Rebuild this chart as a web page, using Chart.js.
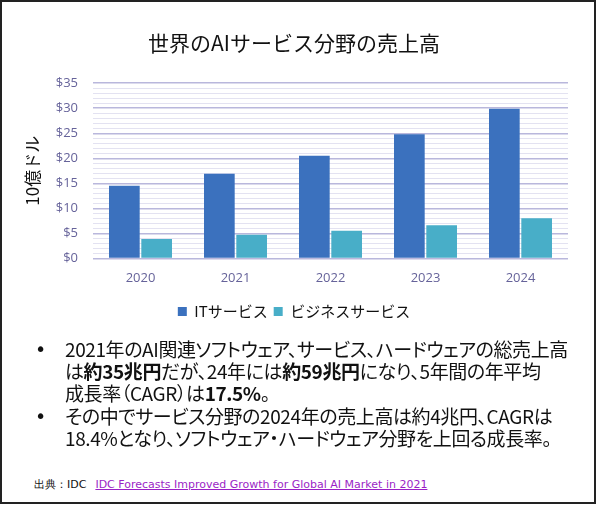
<!DOCTYPE html>
<html lang="ja">
<head>
<meta charset="utf-8">
<script src="https://cdn.jsdelivr.net/npm/chart.js@4.4.1/dist/chart.umd.min.js"></script>
<style>
  html, body { margin: 0; padding: 0; background: #fff; }
  body { width: 600px; height: 506px; position: relative; overflow: hidden;
         font-family: "Noto Sans CJK JP", "Noto Sans", sans-serif; }
  #wrap { position: absolute; left: 0; top: 0; width: 600px; height: 337px; }
  #frame { position: absolute; left: 0; top: 0; width: 592px; height: 500px;
           border: 2px solid #222; pointer-events: none; }
  .notes { position: absolute; left: 0; top: 338px; width: 600px;
           font-size: 19px; line-height: 22px; color: #111; letter-spacing: -0.4px;
           font-feature-settings: "palt"; white-space: nowrap; }
  .item { position: relative; padding-left: 65px; margin-bottom: 1px; }
  .item::before { content: "•"; position: absolute; left: 35px; top: 0; font-family: "DejaVu Sans"; }
  .notes b { font-weight: bold; }
  .src { position: absolute; left: 34px; top: 477px; font-family: "DejaVu Sans", sans-serif;
         font-size: 11px; color: #111; white-space: nowrap; }
  .src a { color: #9b1fc6; text-decoration: underline; margin-left: 9px; }
</style>
</head>
<body>
<div id="wrap"><canvas id="myChart"></canvas></div>

<div class="notes">
  <div class="item">2021年のAI関連ソフトウェア、サービス、ハードウェアの総売上高<br>は<b>約35兆円</b>だが、24年には<b>約59兆円</b>になり、5年間の年平均<br>成長率（CAGR）は<b>17.5%</b>。</div>
  <div class="item">その中でサービス分野の2024年の売上高は約4兆円、CAGRは<br>18.4%となり、ソフトウェア・ハードウェア分野を上回る成長率。</div>
</div>
<div class="src">出典：IDC<a>IDC Forecasts Improved Growth for Global AI Market in 2021</a></div>
<div id="frame"></div>

<script>
// years on the x axis
const years = ['2020', '2021', '2022', '2023', '2024'];
// sales, billions of dollars
const itServices = [14.5, 16.9, 20.5, 24.8, 29.9];
const businessServices = [3.9, 4.7, 5.5, 6.6, 8.0];
const seriesNames = ['ITサービス', 'ビジネスサービス'];

const tickColor = '#66639a';

var ctx = document.getElementById('myChart').getContext('2d');

new Chart(ctx, {
  type: 'bar',
  data: {
    labels: years,
    datasets: [{
      label: seriesNames[0],
      data: itServices,
      backgroundColor: '#3b71be',
      categoryPercentage: 0.68,
      barPercentage: 0.95
    }, {
      label: seriesNames[1],
      data: businessServices,
      backgroundColor: '#48aec8',
      categoryPercentage: 0.68,
      barPercentage: 0.95
    }]
  },
  options: {
    responsive: true,
    maintainAspectRatio: false,
    animation: false,
    layout: { padding: { left: 20, right: 32, top: 0, bottom: 8 } },
    plugins: {
      title: {
        display: true,
        text: '世界のAIサービス分野の売上高',
        color: '#111',
        font: { family: 'Noto Sans CJK JP', size: 21, weight: 'normal' },
        padding: { top: 30, bottom: 28 }
      },
      legend: {
        position: 'bottom',
        labels: {
          color: '#111',
          boxWidth: 9,
          boxHeight: 9,
          padding: 6,
          font: { family: 'Noto Sans CJK JP', size: 15 }
        }
      },
      tooltip: { enabled: false }
    },
    scales: {
      x: {
        grid: { display: false, drawTicks: false },
        border: { display: false },
        ticks: { color: tickColor, padding: 12, font: { family: 'Open Sans', size: 13 } }
      },
      y: {
        min: 0,
        max: 35,
        afterFit: s => { s.width = 73; },
        border: { display: false },
        grid: {
          drawTicks: false,
          color: c => (c.tick.value % 5 === 0 ? '#b9b7dc' : '#e3e2f1'),
          lineWidth: c => (c.tick.value % 5 === 0 ? 1.5 : 1)
        },
        ticks: {
          stepSize: 1,
          autoSkip: false,
          color: tickColor,
          padding: 15,
          font: { family: 'Open Sans', size: 13 },
          callback: v => (v % 5 === 0 ? '$' + v : '')
        },
        title: {
          display: true,
          text: '10億ドル',
          color: '#111',
          font: { family: 'Noto Sans CJK JP', size: 17 },
          padding: { top: 2, bottom: 0 }
        }
      }
    }
  }
});
</script>
</body>
</html>
